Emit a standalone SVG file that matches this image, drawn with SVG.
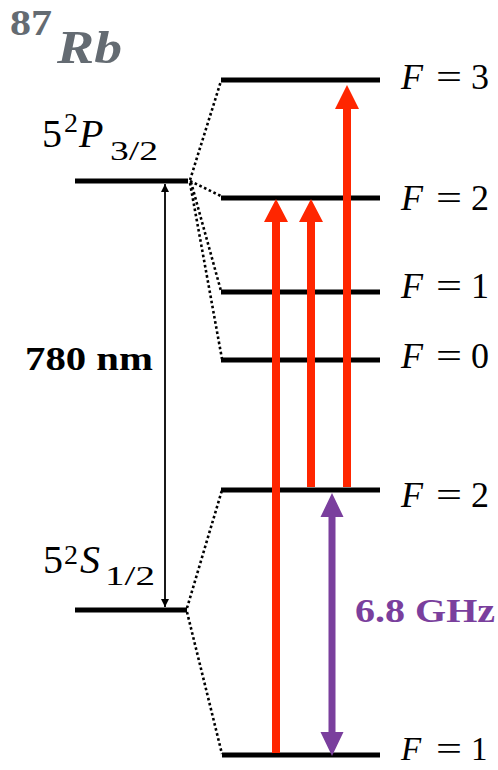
<svg xmlns="http://www.w3.org/2000/svg" width="498" height="770" viewBox="0 0 498 770">
<style>
.lvl{stroke:#000;stroke-width:5;fill:none}
.dot{stroke:#000;stroke-width:2.6;stroke-dasharray:2.6 2.6;fill:none}
.red{fill:#ff2600}
.pur{fill:#7a3f9d}
.t{font-family:"Liberation Serif",serif;fill:#000}
.it{font-style:italic}
.b{font-weight:bold}
</style>
<defs>
<marker id="ah" viewBox="0 0 10 10" refX="10" refY="5" markerWidth="8" markerHeight="10" markerUnits="userSpaceOnUse" orient="auto-start-reverse">
<path d="M0,0 L10,5 L0,10 z" fill="#000"/>
</marker>
</defs>
<rect width="498" height="770" fill="#fff"/>

<g id="title">
<text class="t b" x="10" y="35" font-size="36" style="fill:#646b72" textLength="42" lengthAdjust="spacingAndGlyphs">87</text>
<text class="t b it" x="57" y="63" font-size="46" style="fill:#646b72" textLength="65" lengthAdjust="spacingAndGlyphs">Rb</text>
</g>

<g id="P32">
<line class="lvl" x1="75" y1="181" x2="188" y2="181"/>
<text class="t" x="42" y="147" font-size="40">5</text>
<text class="t" x="64" y="132" font-size="28">2</text>
<text class="t it" x="79" y="147" font-size="40">P</text>
<text class="t" x="110" y="160" font-size="28" textLength="48" lengthAdjust="spacingAndGlyphs">3/2</text>
</g>

<g id="S12">
<line class="lvl" x1="75" y1="610" x2="187" y2="610"/>
<text class="t" x="43" y="573" font-size="40">5</text>
<text class="t" x="64" y="564" font-size="28">2</text>
<text class="t it" x="80" y="573" font-size="40">S</text>
<text class="t" x="105" y="585" font-size="28" textLength="50" lengthAdjust="spacingAndGlyphs">1/2</text>
</g>

<g id="P_F3">
<line class="lvl" x1="221" y1="80" x2="380" y2="80"/>
<text class="t it" x="401" y="89" font-size="36">F</text>
<text class="t" x="436" y="89" font-size="36" textLength="26" lengthAdjust="spacingAndGlyphs">=</text>
<text class="t" x="471" y="89" font-size="36">3</text>
</g>
<g id="P_F2">
<line class="lvl" x1="221" y1="198" x2="380" y2="198"/>
<text class="t it" x="401" y="210" font-size="36">F</text>
<text class="t" x="436" y="210" font-size="36" textLength="26" lengthAdjust="spacingAndGlyphs">=</text>
<text class="t" x="471" y="210" font-size="36">2</text>
</g>
<g id="P_F1">
<line class="lvl" x1="221" y1="292" x2="380" y2="292"/>
<text class="t it" x="401" y="298" font-size="36">F</text>
<text class="t" x="436" y="298" font-size="36" textLength="26" lengthAdjust="spacingAndGlyphs">=</text>
<text class="t" x="471" y="298" font-size="36">1</text>
</g>
<g id="P_F0">
<line class="lvl" x1="221" y1="360" x2="380" y2="360"/>
<text class="t it" x="401" y="368" font-size="36">F</text>
<text class="t" x="436" y="368" font-size="36" textLength="26" lengthAdjust="spacingAndGlyphs">=</text>
<text class="t" x="471" y="368" font-size="36">0</text>
</g>
<g id="S_F2">
<line class="lvl" x1="221" y1="490" x2="380" y2="490"/>
<text class="t it" x="401" y="507" font-size="36">F</text>
<text class="t" x="436" y="507" font-size="36" textLength="26" lengthAdjust="spacingAndGlyphs">=</text>
<text class="t" x="471" y="507" font-size="36">2</text>
</g>
<g id="S_F1">
<line class="lvl" x1="222" y1="755" x2="380" y2="755"/>
<text class="t it" x="401" y="760" font-size="33">F</text>
<text class="t" x="436" y="760" font-size="33" textLength="26" lengthAdjust="spacingAndGlyphs">=</text>
<text class="t" x="471" y="760" font-size="33">1</text>
</g>

<g id="connectors">
<line class="dot" x1="190" y1="180" x2="221" y2="81"/>
<line class="dot" x1="190" y1="181" x2="221" y2="196"/>
<line class="dot" x1="191" y1="182" x2="221" y2="291"/>
<line class="dot" x1="190" y1="183" x2="222" y2="359"/>
<line class="dot" x1="187" y1="608" x2="222" y2="490"/>
<line class="dot" x1="187" y1="612" x2="222" y2="754"/>
<line x1="165" y1="184" x2="165" y2="607" stroke="#000" stroke-width="1.8" marker-start="url(#ah)" marker-end="url(#ah)"/>
<polygon class="red" points="276,199 288,222 280,222 280,753 272,753 272,222 264,222"/>
<polygon class="red" points="311,199 323,222 315,222 315,487 307,487 307,222 299,222"/>
<polygon class="red" points="347,85 359,109 351,109 351,487 343,487 343,109 335,109"/>
<polygon class="pur" points="332,493 343.5,517 335.5,517 335.5,732 343.5,732 332,756 320.5,732 328.5,732 328.5,517 320.5,517"/>
</g>

<g id="labels">
<text class="t b" x="25" y="370" font-size="34" textLength="128" lengthAdjust="spacingAndGlyphs">780 nm</text>
<text class="t b" x="355" y="622" font-size="34" style="fill:#7a3f9d" textLength="140" lengthAdjust="spacingAndGlyphs">6.8 GHz</text>
</g>
</svg>
